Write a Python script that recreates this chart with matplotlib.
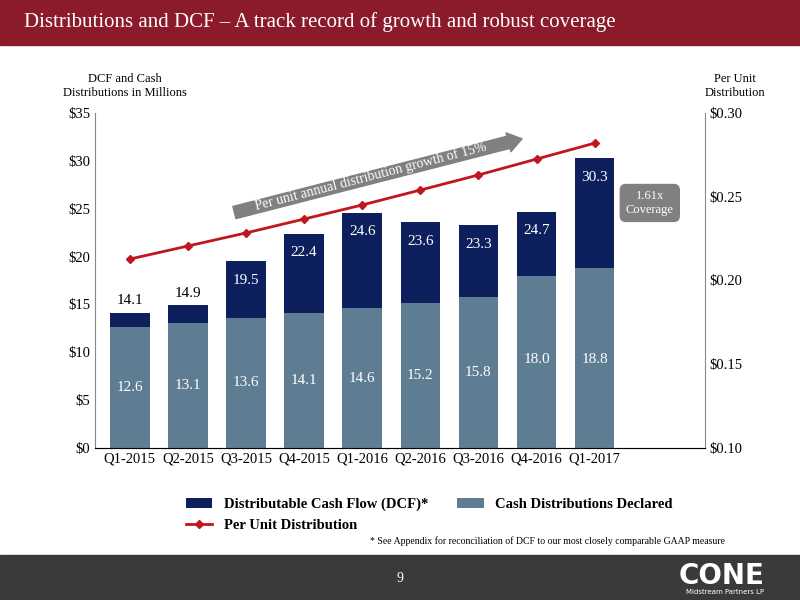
import matplotlib
matplotlib.use("Agg")
import matplotlib.pyplot as plt
import matplotlib.patches as mp

quarters = ["Q1-2015","Q2-2015","Q3-2015","Q4-2015","Q1-2016","Q2-2016","Q3-2016","Q4-2016","Q1-2017"]
dcf = [14.1,14.9,19.5,22.4,24.6,23.6,23.3,24.7,30.3]
cash = [12.6,13.1,13.6,14.1,14.6,15.2,15.8,18.0,18.8]
per_unit = [0.2128,0.2206,0.2284,0.2367,0.2451,0.2540,0.2630,0.2725,0.2820]

serif = "Liberation Serif"
plt.rcParams['font.family'] = serif
fig = plt.figure(figsize=(8,6), dpi=100)
fig.patches.append(mp.Rectangle((0,555/600),1,45/600,transform=fig.transFigure,color="#8b1a2b",zorder=0))
fig.patches.append(mp.Rectangle((0,0),1,45/600,transform=fig.transFigure,color="#3a3a3a",zorder=0))
fig.text(0.03,1-22/600,"Distributions and DCF – A track record of growth and robust coverage",color="white",fontsize=15,va="center")
fig.text(0.5,22/600,"9",color="white",fontsize=10,ha="center",va="center")
fig.text(0.955,24/600,"CONE",color="white",fontsize=20,ha="right",va="center",weight="bold",family="DejaVu Sans")
fig.text(0.955,8/600,"Midstream Partners LP",color="white",fontsize=5,ha="right",va="center",family="DejaVu Sans")

ax = fig.add_axes([95/800,1-448/600,610/800,335/600])
x = range(len(quarters))
ax.bar(x,dcf,width=0.68,color="#0d1f5c",label="Distributable Cash Flow (DCF)*")
ax.bar(x,cash,width=0.68,color="#5e7d93",label="Cash Distributions Declared")
for i in x:
    if i < 2:
        ax.text(i,dcf[i]+0.6,f"{dcf[i]:.1f}",ha="center",va="bottom",fontsize=11,color="black")
    else:
        ax.text(i,dcf[i]-2.0,f"{dcf[i]:.1f}",ha="center",va="center",fontsize=11,color="white")
    ax.text(i,cash[i]/2 if i<7 else 9.2,f"{cash[i]:.1f}",ha="center",va="center",fontsize=11,color="white")
ax.set_ylim(0,35); ax.set_xlim(-0.6,9.9)
ax.set_yticks(range(0,36,5)); ax.set_yticklabels([f"${v}" for v in range(0,36,5)])
ax.set_xticks(list(x)); ax.set_xticklabels(quarters)
for s in ["top","right"]: ax.spines[s].set_visible(False)
ax.spines["left"].set_color("#888"); ax.spines["bottom"].set_color("#888")
ax.tick_params(labelsize=10.5, length=0)
ax2 = ax.twinx()
ax2.plot(list(x),per_unit,color="#c0161e",marker="D",markersize=4,lw=2,label="Per Unit Distribution")
ax2.set_ylim(0.10,0.30)
ax2.set_yticks([0.10,0.15,0.20,0.25,0.30]); ax2.set_yticklabels([f"${v:.2f}" for v in [0.10,0.15,0.20,0.25,0.30]])
for s in ["top","left"]: ax2.spines[s].set_visible(False)
ax2.spines["right"].set_color("#888")
ax2.tick_params(labelsize=10.5,length=0)
ax2.annotate("",xy=(6.75,32.3),xytext=(1.8,24.6),xycoords=ax.transData,textcoords=ax.transData,zorder=5,
            arrowprops=dict(arrowstyle="simple,head_width=1.4,head_length=1.0,tail_width=0.9",color="#808080",shrinkA=0,shrinkB=0))
ax2.text(4.15,28.35,"Per unit annual distribution growth of 15%",transform=ax.transData,rotation=14.5,
         ha="center",va="center",color="white",fontsize=10,zorder=6)
ax.text(8.95,25.6,"1.61x\nCoverage",ha="center",va="center",fontsize=9,color="white",
        bbox=dict(boxstyle="round,pad=0.5",fc="#808080",ec="none"))
fig.text(125/800,1-86/600,"DCF and Cash\nDistributions in Millions",ha="center",va="center",fontsize=9)
fig.text(735/800,1-86/600,"Per Unit\nDistribution",ha="center",va="center",fontsize=9)
h1,l1 = ax.get_legend_handles_labels(); h2,l2 = ax2.get_legend_handles_labels()
fig.legend([h1[0],h2[0],h1[1]],[l1[0],l2[0],l1[1]],loc="upper left",bbox_to_anchor=(180/800,1-492/600),ncol=2,frameon=False,
           prop=dict(family=serif,weight="bold",size=10.5),columnspacing=2.0,handlelength=1.8,labelspacing=0.5,borderaxespad=0)
fig.text(725/800,1-541/600,"* See Appendix for reconciliation of DCF to our most closely comparable GAAP measure",ha="right",va="center",fontsize=7)
fig.savefig("out.png")
